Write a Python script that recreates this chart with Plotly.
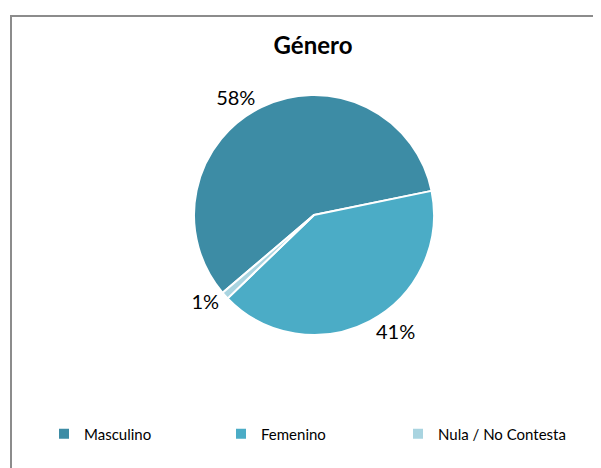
import plotly.graph_objects as go

W, H = 601, 468
categories = ["Masculino", "Femenino", "Nula / No Contesta"]
values = [58, 41, 1]
colors = ["#3D8CA5", "#4BACC6", "#A9D4E0"]

FONT = "Lato, Noto Sans, sans-serif"
CX, CY, R = 306, 207, 120

fig = go.Figure()
fig.add_trace(go.Pie(
    labels=categories,
    values=values,
    sort=False,
    direction="clockwise",
    rotation=229.6,
    marker=dict(colors=colors, line=dict(color="white", width=2)),
    texttemplate="%{percent:.0%}",
    textposition="outside",
    textfont=dict(family=FONT, size=20, color="#000000"),
    domain=dict(x=[(CX - 160) / W, (CX + 160) / W], y=[1 - (CY + R) / H, 1 - (CY - R) / H]),
    hoverinfo="label+percent",
))

fig.update_layout(
    width=W, height=H,
    margin=dict(l=0, r=0, t=0, b=0),
    paper_bgcolor="white",
    title=dict(text="<b>Género</b>", x=305 / W, xanchor="center", y=1 - 38 / H, yanchor="middle",
               font=dict(family=FONT, size=24, color="#000000")),
    legend=dict(orientation="h", x=36 / W, xanchor="left", y=1 - 426 / H, yanchor="middle",
                font=dict(family=FONT, size=15, color="#000000"),
                entrywidth=132, itemwidth=30, traceorder="normal"),
    shapes=[dict(type="rect", xref="paper", yref="paper",
                 x0=3 / W, x1=605 / W, y0=1 - 466 / H, y1=1 - 8 / H,
                 line=dict(color="#8C8C8C", width=2), fillcolor="rgba(0,0,0,0)")],
)

fig.write_html("out.html")
